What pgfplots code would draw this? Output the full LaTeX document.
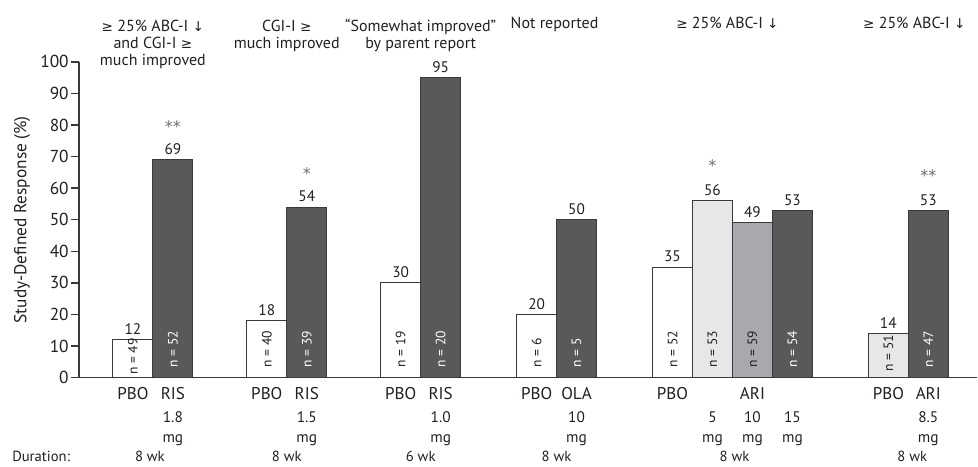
\documentclass[border=0pt]{standalone}
\usepackage{fontspec}
\setmainfont{PT Sans}
\newfontfamily\sym{DejaVu Sans}[Scale=0.85]
\newfontfamily\starf{DejaVu Sans}
\usepackage{pgfplots}
\pgfplotsset{compat=1.18}
\definecolor{barborder}{HTML}{3A3A3C}
\definecolor{darkbar}{HTML}{58595B}
\definecolor{midbar}{HTML}{A7A9AC}
\definecolor{lightbar}{HTML}{E6E7E8}
\definecolor{axisc}{HTML}{3A3A3C}
\definecolor{txt}{HTML}{231F20}
\definecolor{starc}{HTML}{6D6E71}
\newcommand{\GE}{{\sym ≥}}
\newcommand{\DN}{{\sym ↓}}
\begin{document}
\begin{tikzpicture}
\begin{axis}[
  x=0.75pt, y=2.37pt,
  xmin=79, xmax=978, ymin=0, ymax=100,
  axis lines=left,
  axis line style={-, axisc, line width=1.1pt},
  xtick=\empty,
  ytick={0,10,...,100},
  tick style={axisc, line width=1.1pt},
  major tick length=6pt,
  tick align=outside,
  yticklabel style={font=\fontsize{13}{15}\selectfont, text=txt, inner sep=1.5pt},
  /pgf/number format/assume math mode=true,
  clip=false,
  ybar, bar width=40, bar shift=0pt,
  nodes near coords,
  every node near coord/.append style={font=\fontsize{11.5}{13}\selectfont, text=txt},
]
\addplot[fill=white, draw=barborder, line width=0.8pt] coordinates {(133,12) (267,18) (401,30) (537,20) (673,35)};
\addplot[fill=darkbar, draw=barborder, line width=0.8pt] coordinates {(173,69) (307,54) (441,95) (577,50) (793,53) (929,53)};
\addplot[fill=lightbar, draw=barborder, line width=0.8pt] coordinates {(713,56) (889,14)};
\addplot[fill=midbar, draw=barborder, line width=0.8pt] coordinates {(753,49)};

% bounding box
\path (axis cs:0,119.6) rectangle (axis cs:978,-28.0);

% y label
\node[rotate=90, font=\fontsize{13}{15}\selectfont, text=txt] at (axis cs:22,50) {Study-Defined Response (\%)};

% stars
\begin{scope}[every node/.style={anchor=north, inner sep=0pt, font=\starf\fontsize{12}{14}\selectfont, text=starc}]
\node at (axis cs:173,81.6) {**};
\node at (axis cs:307,66.5) {*};
\node at (axis cs:713,69) {*};
\node at (axis cs:929,66.1) {**};
\end{scope}

% n labels
\begin{scope}[every node/.style={rotate=90, anchor=west, inner sep=0pt, font=\fontsize{10.2}{12}\selectfont}]
\node[text=txt] at (axis cs:133,0.8) {n = 49};
\node[text=white] at (axis cs:173,3.2) {n = 52};
\node[text=txt] at (axis cs:267,3.2) {n = 40};
\node[text=white] at (axis cs:307,3.2) {n = 39};
\node[text=txt] at (axis cs:401,3.2) {n = 19};
\node[text=white] at (axis cs:441,3.2) {n = 20};
\node[text=txt] at (axis cs:537,3.2) {n = 6};
\node[text=white] at (axis cs:577,3.2) {n = 5};
\node[text=txt] at (axis cs:673,3.2) {n = 52};
\node[text=txt] at (axis cs:713,3.2) {n = 53};
\node[text=txt] at (axis cs:753,3.2) {n = 59};
\node[text=white] at (axis cs:793,3.2) {n = 54};
\node[text=txt] at (axis cs:889,2) {n = 51};
\node[text=white] at (axis cs:929,3.2) {n = 47};
\end{scope}

% headers
\begin{scope}[every node/.style={anchor=base, inner sep=0pt, font=\fontsize{12}{14}\selectfont, text=txt}]
\node at (axis cs:153,109.6) {\GE{} 25\% ABC-I \DN};
\node at (axis cs:153,104.2) {and CGI-I \GE};
\node at (axis cs:153,98.8) {much improved};
\node at (axis cs:287,109.6) {CGI-I \GE};
\node at (axis cs:287,104.2) {much improved};
\node at (axis cs:421,109.6) {“Somewhat improved”};
\node at (axis cs:421,104.2) {by parent report};
\node at (axis cs:555,110.6) {Not reported};
\node at (axis cs:728,110.6) {\GE{} 25\% ABC-I \DN};
\node at (axis cs:915,110.6) {\GE{} 25\% ABC-I \DN};
\end{scope}

% bottom labels
\begin{scope}[every node/.style={anchor=base, inner sep=0pt, font=\fontsize{12.8}{14}\selectfont, text=txt}]
\node at (axis cs:133,-7) {PBO};
\node at (axis cs:173,-7) {RIS};
\node at (axis cs:267,-7) {PBO};
\node at (axis cs:307,-7) {RIS};
\node at (axis cs:401,-7) {PBO};
\node at (axis cs:441,-7) {RIS};
\node at (axis cs:537,-7) {PBO};
\node at (axis cs:577,-7) {OLA};
\node at (axis cs:673,-7) {PBO};
\node at (axis cs:753,-7) {ARI};
\node at (axis cs:889,-7) {PBO};
\node at (axis cs:929,-7) {ARI};
\end{scope}
\begin{scope}[every node/.style={anchor=base, inner sep=0pt, font=\fontsize{11.5}{13}\selectfont, text=txt}]
\node at (axis cs:173,-14.2) {1.8};
\node at (axis cs:173,-20.6) {mg};
\node at (axis cs:307,-14.2) {1.5};
\node at (axis cs:307,-20.6) {mg};
\node at (axis cs:441,-14.2) {1.0};
\node at (axis cs:441,-20.6) {mg};
\node at (axis cs:577,-14.2) {10};
\node at (axis cs:577,-20.6) {mg};
\node at (axis cs:713,-14.2) {5};
\node at (axis cs:713,-20.6) {mg};
\node at (axis cs:753,-14.2) {10};
\node at (axis cs:753,-20.6) {mg};
\node at (axis cs:793,-14.2) {15};
\node at (axis cs:793,-20.6) {mg};
\node at (axis cs:929,-14.2) {8.5};
\node at (axis cs:929,-20.6) {mg};
\end{scope}
\begin{scope}[every node/.style={anchor=base, inner sep=0pt, font=\fontsize{11}{13}\selectfont, text=txt}]
\node[anchor=base west] at (axis cs:12,-26.4) {Duration:};
\node at (axis cs:150,-26.4) {8 wk};
\node at (axis cs:287,-26.4) {8 wk};
\node at (axis cs:421,-26.4) {6 wk};
\node at (axis cs:557,-26.4) {8 wk};
\node at (axis cs:735,-26.4) {8 wk};
\node at (axis cs:913,-26.4) {8 wk};
\end{scope}
\end{axis}
\end{tikzpicture}
\end{document}
